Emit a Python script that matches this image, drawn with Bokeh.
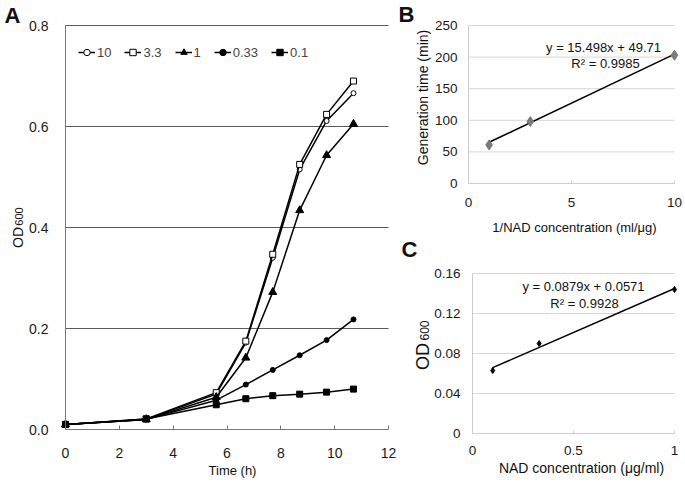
import math
from bokeh.plotting import figure
from bokeh.layouts import row, column
from bokeh.models import Label, FixedTicker, Range1d, Legend, LegendItem, LinearAxis
from bokeh.embed import file_html
from bokeh.resources import INLINE

FONT = "Liberation Sans"

# ---------------- data ----------------
time_h = [0, 3, 5.6, 6.7, 7.7, 8.7, 9.7, 10.7]
od_10 = [0.010, 0.020, 0.070, 0.172, 0.340, 0.515, 0.611, 0.666]
od_3_3 = [0.010, 0.021, 0.073, 0.175, 0.347, 0.525, 0.624, 0.690]
od_1 = [0.010, 0.020, 0.064, 0.142, 0.272, 0.434, 0.543, 0.605]
od_0_33 = [0.010, 0.020, 0.058, 0.089, 0.118, 0.147, 0.177, 0.218]
od_0_1 = [0.010, 0.021, 0.049, 0.061, 0.067, 0.070, 0.074, 0.080]
series_labels = ["10", "3.3", "1", "0.33", "0.1"]
a_xticks = [0, 2, 4, 6, 8, 10, 12]
a_yticks = [0.0, 0.2, 0.4, 0.6, 0.8]

inv_nad = [1, 3, 10]
gen_time = [61, 98, 203]
b_slope, b_intercept = 15.498, 49.71
b_fit_x = [1, 10]
b_xticks = [0, 5, 10]
b_yticks = [0, 50, 100, 150, 200, 250]

nad_conc = [0.1, 0.33, 1.0]
od_c = [0.063, 0.090, 0.144]
c_slope, c_intercept = 0.0879, 0.0571
c_fit_x = [0.1, 1.0]
c_xticks = [0, 0.5, 1]
c_yticks = [0, 0.04, 0.08, 0.12, 0.16]


class Panel:
    """A figure whose whole canvas is the frame; axes are pinned at the data edges."""

    def __init__(self, canvas, frame, xlim, ylim):
        cl, ct, cw, ch = canvas          # page px: left, top, width, height
        fl, ft, fr, fb = frame           # page px of the data box
        x0, x1 = xlim
        y0, y1 = ylim
        kx = (fr - fl) / (x1 - x0)
        ky = (fb - ft) / (y1 - y0)
        self.fl, self.fb = fl, fb
        self.kx, self.ky, self.x0, self.y0 = kx, ky, x0, y0
        xs = x0 - (fl - cl) / kx
        xe = x0 + (cl + cw - fl) / kx
        ys = y0 - (ct + ch - fb) / ky
        ye = y0 + (fb - ct) / ky
        p = figure(width=cw, height=ch, output_backend="svg", toolbar_location=None,
                   x_range=Range1d(xs, xe), y_range=Range1d(ys, ye),
                   x_axis_location=None, y_axis_location=None,
                   min_border=0, min_border_left=0, min_border_right=0,
                   min_border_top=0, min_border_bottom=0)
        p.xgrid.visible = False
        p.ygrid.visible = False
        p.outline_line_color = None
        p.background_fill_color = "white"
        p.border_fill_color = "white"
        self.p = p
        self.xlim, self.ylim = xlim, ylim

    def data(self, px, py):
        return (self.x0 + (px - self.fl) / self.kx, self.y0 + (self.fb - py) / self.ky)

    def label(self, px, py, text, size, bold=False, angle=0.0, color="#111111"):
        x, y = self.data(px, py)
        self.p.add_layout(Label(x=x, y=y, text=text, text_font=FONT, text_font_size=size,
                                text_font_style="bold" if bold else "normal",
                                text_align="center", text_baseline="middle",
                                angle=angle, text_color=color))

    def axes(self, xticks, yticks, color, size, xstand, ystand, tick_in, xfmt, yfmt):
        xa = LinearAxis(fixed_location=self.ylim[0], bounds=self.xlim,
                        ticker=FixedTicker(ticks=xticks),
                        major_label_overrides={t: xfmt(t) for t in xticks})
        ya = LinearAxis(fixed_location=self.xlim[0], bounds=self.ylim,
                        ticker=FixedTicker(ticks=yticks),
                        major_label_overrides={t: yfmt(t) for t in yticks})
        for ax in (xa, ya):
            ax.axis_line_color = color
            ax.major_tick_line_color = color
            ax.minor_tick_line_color = None
            ax.major_label_text_font = FONT
            ax.major_label_text_font_size = size
            ax.major_label_text_color = "#1a1a1a"
            ax.major_tick_out = 0
        xa.major_tick_in = tick_in
        ya.major_tick_in = 0
        xa.major_label_standoff = xstand
        ya.major_label_standoff = ystand
        self.p.add_layout(xa, "below")
        self.p.add_layout(ya, "left")

    def hgrid(self, yticks, color):
        ys = [t for t in yticks if t != self.ylim[0]]
        self.p.segment(x0=[self.xlim[0]] * len(ys), x1=[self.xlim[1]] * len(ys),
                       y0=ys, y1=ys, line_color=color, line_width=1)


# ---------------- Panel A ----------------
A = Panel((0, 0, 396, 482), (65, 25, 388, 429), (0, 12), (0, 0.8))
A.hgrid(a_yticks, "#5a5a5a")
A.axes(a_xticks, a_yticks, "#777777", "14px", 18, 17, 4,
       lambda t: str(t), lambda t: f"{t:.1f}")
pA = A.p
series = [od_10, od_3_3, od_1, od_0_33, od_0_1]
markers = [("circle", 5, "white"), ("square", 6, "white"), ("triangle", 8, "black"),
           ("circle", 5, "black"), ("square", 6, "black")]
items = []
for vals, (mk, sz, fill), lab in zip(series, markers, series_labels):
    r1 = pA.line(time_h, vals, line_color="black", line_width=1.5)
    r2 = pA.scatter(time_h, vals, marker=mk, size=sz, fill_color=fill,
                    line_color="black", line_width=1)
    items.append(LegendItem(label=lab, renderers=[r1, r2]))
leg = Legend(items=items, orientation="horizontal", location=(78, 422),
             label_text_font=FONT, label_text_font_size="13px",
             glyph_width=17, glyph_height=16, label_height=16, label_width=0,
             label_standoff=2, spacing=13, padding=4, margin=0,
             border_line_color=None, background_fill_alpha=0)
pA.add_layout(leg)
A.label(12, 15, "A", "22px", bold=True)
A.label(17, 237, "OD", "14px", angle=math.pi / 2)
A.label(18, 216, "600", "11px", angle=math.pi / 2)
A.label(232, 470, "Time (h)", "13px")

# ---------------- Panel B ----------------
B = Panel((396, 0, 289, 235), (468, 25, 674, 183), (0, 10), (0, 250))
B.hgrid(b_yticks, "#d6d6d6")
B.axes(b_xticks, b_yticks, "#cccccc", "13.5px", 14, 11, 3,
       lambda t: str(t), lambda t: str(t))
pB = B.p
b_fit_y = [b_slope * x + b_intercept for x in b_fit_x]
pB.line(b_fit_x, b_fit_y, line_color="black", line_width=1.5)
pB.scatter(inv_nad, gen_time, marker="diamond", size=10, fill_color="#7a7a7a",
           line_color="#7a7a7a")
B.label(603, 47, "y = 15.498x + 49.71", "13px")
B.label(605, 63, "R² = 0.9985", "13px")
B.label(406, 14, "B", "22px", bold=True)
B.label(422, 97, "Generation time (min)", "14px", angle=math.pi / 2)
B.label(574, 226.5, "1/NAD concentration (ml/μg)", "13px")

# ---------------- Panel C ----------------
C = Panel((396, 235, 289, 247), (472, 273, 674, 433), (0, 1), (0, 0.16))
C.hgrid(c_yticks, "#d6d6d6")
C.axes(c_xticks, c_yticks, "#cccccc", "13.5px", 12, 12, 3,
       lambda t: {0: "0", 0.5: "0.5", 1: "1"}[t],
       lambda t: "0" if t == 0 else f"{t:.2f}")
pC = C.p
c_fit_y = [c_slope * x + c_intercept for x in c_fit_x]
pC.line(c_fit_x, c_fit_y, line_color="black", line_width=1.5)
pC.scatter(nad_conc, od_c, marker="diamond", size=6, fill_color="black", line_color="black")
C.label(583, 286, "y = 0.0879x + 0.0571", "13px")
C.label(584, 303, "R² = 0.9928", "13px")
C.label(409, 249, "C", "22px", bold=True)
C.label(422.5, 356, "OD", "18px", angle=math.pi / 2)
C.label(423.5, 330, "600", "12px", angle=math.pi / 2)
C.label(581, 467, "NAD concentration (μg/ml)", "14px")

layout = row(pA, column(pB, pC))
open("out.html", "w").write(file_html(layout, INLINE))
